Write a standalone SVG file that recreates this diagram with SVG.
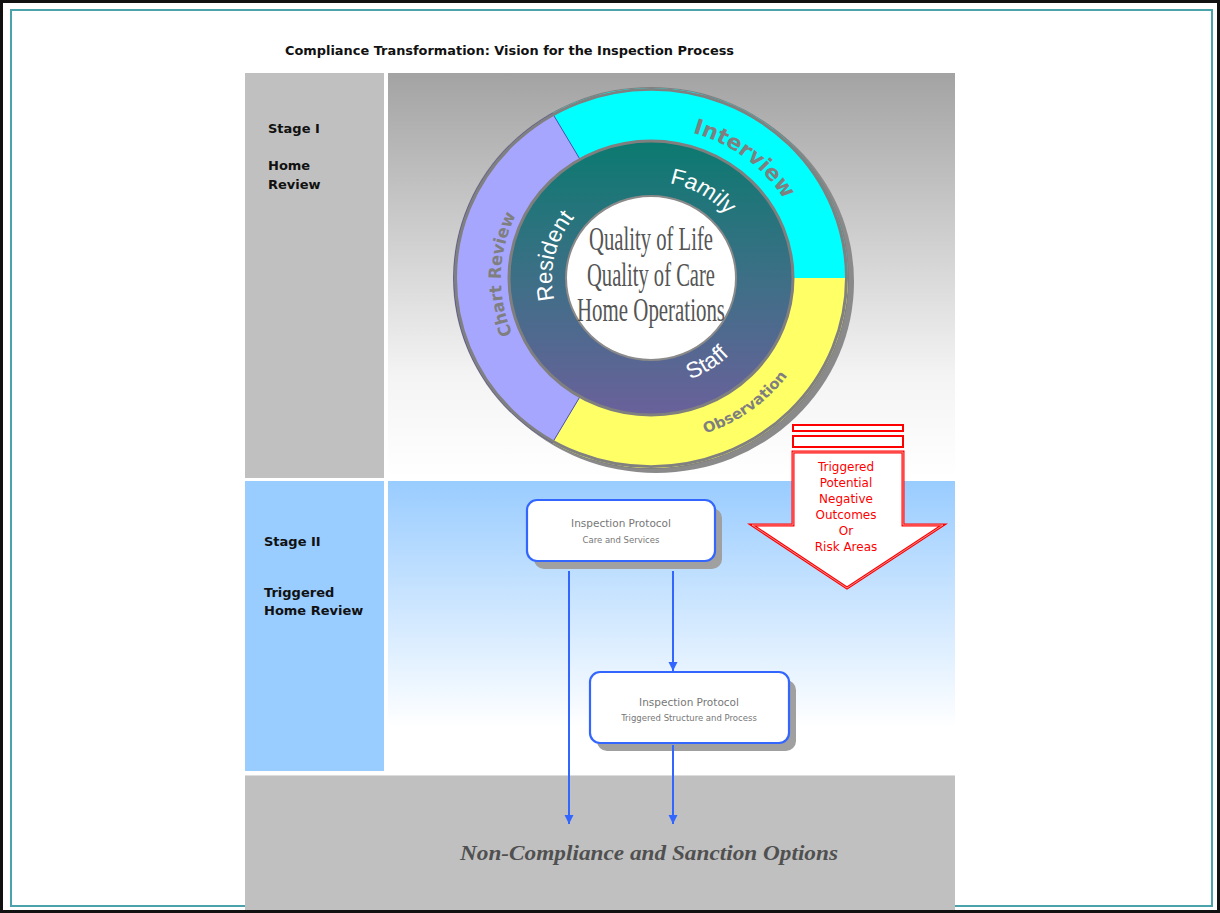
<svg xmlns="http://www.w3.org/2000/svg" width="1220" height="913" viewBox="0 0 1220 913">
<defs>
<style>
.stage{font-family:"DejaVu Sans",Verdana,sans-serif;font-weight:bold;font-size:13px;fill:#111}
.ring{font-family:"DejaVu Sans",Verdana,sans-serif;font-weight:bold;fill:#7f7f7f}
.inner{font-family:"Liberation Sans",Arial,sans-serif;font-size:23px;fill:#ffffff}
.core{font-family:"Liberation Serif","Times New Roman",serif;font-size:33px;fill:#555555;text-anchor:middle}
.red{font-family:"DejaVu Sans",Verdana,sans-serif;font-size:12px;fill:#ff0000;text-anchor:middle}
.p1{font-family:"DejaVu Sans",Verdana,sans-serif;font-size:10.5px;fill:#777777;text-anchor:middle}
.p2{font-family:"DejaVu Sans",Verdana,sans-serif;font-size:8.5px;fill:#777777;text-anchor:middle}
.box{fill:#ffffff;stroke:#3366ff;stroke-width:2.2}
.shadow{fill:#a0a0a0}
.conn{fill:none;stroke:#3366ff;stroke-width:2}
</style>
<linearGradient id="g1" x1="0" y1="0" x2="0" y2="1">
<stop offset="0" stop-color="#a3a3a3"/>
<stop offset="0.75" stop-color="#f4f4f4"/>
<stop offset="1" stop-color="#ffffff"/>
</linearGradient>
<linearGradient id="g2" x1="0" y1="0" x2="0" y2="1">
<stop offset="0" stop-color="#99ccff"/>
<stop offset="0.85" stop-color="#ffffff"/>
<stop offset="1" stop-color="#ffffff"/>
</linearGradient>
<linearGradient id="gt" gradientUnits="userSpaceOnUse" x1="0" y1="-142" x2="0" y2="142">
<stop offset="0" stop-color="#0b7a70"/>
<stop offset="0.5" stop-color="#3d6f86"/>
<stop offset="1" stop-color="#6a619b"/>
</linearGradient>
<marker id="ah" markerUnits="userSpaceOnUse" markerWidth="9" markerHeight="10" viewBox="0 0 10 10" refX="10" refY="5" orient="auto">
<path d="M0,0 L10,5 L0,10 z" fill="#3366ff"/>
</marker>
<path id="pInterview" d="M-60.95,-143.6 A156,156 0 0,1 154.8,19"/>
<path id="pFamily" d="M-50,-86.6 A100,100 0 0,1 100,0"/>
<path id="pResident" d="M-67.5,72.4 A99,99 0 0,1 -28.9,-94.7"/>
<path id="pChart" d="M-78.4,127.9 A150,150 0 0,1 -71.6,-131.8"/>
<path id="pObs" d="M-69.1,155.3 A170,170 0 0,0 169.1,-17.8"/>
<path id="pStaff" d="M-51.7,99.3 A112,112 0 0,0 111.9,-4.9"/>
</defs>

<g id="frame">
<rect x="0" y="0" width="1220" height="913" fill="#ffffff"/>
<rect x="11" y="10" width="1201" height="896" fill="none" stroke="#4aa3ab" stroke-width="2"/>
<rect x="1.5" y="1.5" width="1217" height="910" fill="none" stroke="#111111" stroke-width="3"/>
</g>

<text id="title" x="285" y="55" class="stage" textLength="449" lengthAdjust="spacingAndGlyphs">Compliance Transformation: Vision for the Inspection Process</text>

<g id="panels">
<rect x="245" y="73" width="139" height="405" fill="#c0c0c0"/>
<rect x="388" y="73" width="567" height="405" fill="url(#g1)"/>
<rect x="245" y="481" width="139" height="290" fill="#99ccff"/>
<rect x="388" y="481" width="567" height="290" fill="url(#g2)"/>
<rect x="245" y="776" width="710" height="134" fill="#c0c0c0"/>
<line x1="245" y1="775.5" x2="955" y2="775.5" stroke="#dddddd" stroke-width="1"/>
</g>

<g id="stage1">
<text x="268" y="133" class="stage">Stage I</text>
<text x="268" y="170" class="stage">Home</text>
<text x="268" y="189" class="stage">Review</text>
</g>
<g id="stage2">
<text x="264" y="546" class="stage">Stage II</text>
<text x="264" y="597" class="stage">Triggered</text>
<text x="264" y="615" class="stage">Home Review</text>
</g>

<g id="wheel" transform="translate(651,278) scale(1,0.965)">
<circle cx="5" cy="4" r="198" fill="#8a8a8a"/>
<circle cx="0" cy="0" r="198" fill="#808080"/>
<path d="M0,0 L-98.5,-170.6 A197,197 0 0,1 197,0 Z" fill="#00ffff"/>
<path d="M0,0 L197,0 A197,197 0 0,1 -98.5,170.6 Z" fill="#ffff66"/>
<path d="M0,0 L-98.5,170.6 A197,197 0 0,1 -98.5,-170.6 Z" fill="#a6a6ff" stroke="#3a3aa0" stroke-width="0.8"/>
<circle cx="0" cy="0" r="195.5" fill="none" stroke="#808080" stroke-width="3"/>
<circle cx="0" cy="0" r="142" fill="url(#gt)" stroke="#7f7f7f" stroke-width="3"/>
<circle cx="0" cy="0" r="85" fill="#ffffff" stroke="#8a8a8a" stroke-width="2"/>
<text class="ring" font-size="22"><textPath href="#pInterview" startOffset="50%" text-anchor="middle">Interview</textPath></text>
<text class="ring" font-size="17"><textPath href="#pChart" startOffset="50%" text-anchor="middle">Chart Review</textPath></text>
<text class="ring" font-size="15"><textPath href="#pObs" startOffset="50%" text-anchor="middle">Observation</textPath></text>
<text class="inner"><textPath href="#pFamily" startOffset="50%" text-anchor="middle">Family</textPath></text>
<text class="inner"><textPath href="#pResident" startOffset="50%" text-anchor="middle">Resident</textPath></text>
<text class="inner"><textPath href="#pStaff" startOffset="50%" text-anchor="middle">Staff</textPath></text>
</g>
<g id="core">
<text x="651" y="250" class="core" textLength="124" lengthAdjust="spacingAndGlyphs">Quality of Life</text>
<text x="651" y="286" class="core" textLength="128" lengthAdjust="spacingAndGlyphs">Quality of Care</text>
<text x="651" y="321" class="core" textLength="148" lengthAdjust="spacingAndGlyphs">Home Operations</text>
</g>

<g id="trigger-arrow">
<rect x="793" y="425" width="110" height="6" fill="#ffffff" stroke="#ff0000" stroke-width="2"/>
<rect x="793" y="436" width="110" height="11" fill="#ffffff" stroke="#ff0000" stroke-width="2"/>
<path d="M793,452 L903,452 L903,525 L943,525 L847,588 L752,525 L793,525 Z" fill="#ffffff" stroke="#ff0000" stroke-width="3" stroke-linejoin="miter"/>
<path d="M793,452 L903,452 L903,525 L943,525 L847,588 L752,525 L793,525 Z" fill="none" stroke="#ffb3b3" stroke-width="0.8"/>
<text x="846" y="471" class="red">Triggered</text>
<text x="846" y="487" class="red">Potential</text>
<text x="846" y="503" class="red">Negative</text>
<text x="846" y="519" class="red">Outcomes</text>
<text x="846" y="535" class="red">Or</text>
<text x="846" y="551" class="red">Risk Areas</text>
</g>

<g id="protocol-care">
<rect x="534" y="508" width="188" height="61" rx="10" class="shadow"/>
<rect x="527" y="500" width="188" height="61" rx="10" class="box"/>
<text x="621" y="527" class="p1">Inspection Protocol</text>
<text x="621" y="543" class="p2">Care and Services</text>
</g>

<g id="protocol-triggered">
<rect x="597" y="680" width="199" height="71" rx="10" class="shadow"/>
<rect x="590" y="672" width="199" height="71" rx="10" class="box"/>
<text x="689" y="706" class="p1">Inspection Protocol</text>
<text x="689" y="721" class="p2">Triggered Structure and Process</text>
</g>

<g id="connectors">
<path d="M569,571 L569,824" class="conn" marker-end="url(#ah)"/>
<path d="M673,571 L673,671" class="conn" marker-end="url(#ah)"/>
<path d="M673,745 L673,824" class="conn" marker-end="url(#ah)"/>
</g>

<g id="outcome">
<text x="649" y="860" font-family="Liberation Serif, Times New Roman, serif" font-weight="bold" font-style="italic" font-size="22" fill="#505050" text-anchor="middle" textLength="378" lengthAdjust="spacingAndGlyphs">Non-Compliance and Sanction Options</text>
</g>
</svg>
